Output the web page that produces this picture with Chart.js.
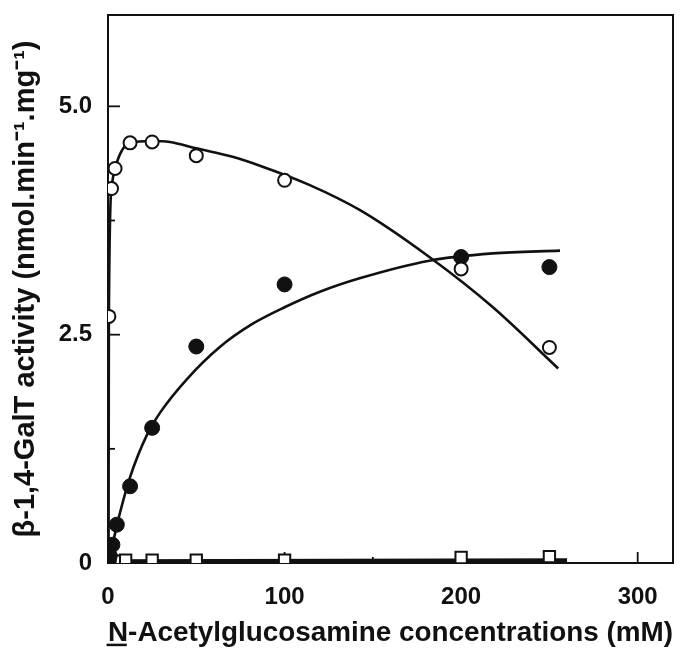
<!DOCTYPE html>
<html><head><meta charset="utf-8">
<script src="https://cdn.jsdelivr.net/npm/chart.js@4.4.1/dist/chart.umd.min.js"></script>
<style>html,body{margin:0;padding:0;background:#fff}#wrap{width:685px;height:654px}</style>
</head><body><div id="wrap"><canvas id="c" width="685" height="654"></canvas></div>
<script>
// Tick values
const xTickLabels = [0, 100, 200, 300];
const xTickMarks = [0, 50, 100, 150, 200, 250, 300];
const yTickLabels = [0, 2.5, 5];
const yTickMarks = [0, 1.25, 2.5, 3.75, 5];

// Open circles
const openX = [0.5, 2, 4, 12.5, 25, 50, 100, 200, 250];
const openY = [2.70, 4.10, 4.32, 4.60, 4.61, 4.46, 4.19, 3.22, 2.36];
// Filled circles
const filledX = [0.5, 1, 2.5, 5, 12.5, 25, 50, 100, 200, 250];
const filledY = [0.03, 0.08, 0.20, 0.42, 0.84, 1.48, 2.37, 3.05, 3.35, 3.24];
// Open squares
const squareX = [0.5, 1, 2.5, 5, 10, 25, 50, 100, 200, 250];
const squareY = [0.02, 0.02, 0.02, 0.02, 0.03, 0.03, 0.03, 0.03, 0.06, 0.07];

// Fitted curves
const openFitX = [0.3, 0.5, 2, 4, 12.5, 25, 35, 50, 70, 86, 114, 143, 182, 218, 255];
const openFitY = [0, 2.7, 4.1, 4.32, 4.6, 4.62, 4.61, 4.54, 4.45, 4.35, 4.14, 3.86, 3.35, 2.80, 2.13];
const filledFitX = [0, 2.5, 6.8, 12.5, 22, 30, 45, 63, 82, 100, 120, 143, 182, 218, 256];
const filledFitY = [0, 0.2, 0.55, 0.94, 1.40, 1.66, 2.02, 2.36, 2.62, 2.80, 2.97, 3.12, 3.31, 3.39, 3.42];
const squareFitX = [0, 260];
const squareFitY = [0.02, 0.03];

const xTitle = 'N-Acetylglucosamine concentrations (mM)';
const yTitle = 'β-1,4-GalT activity (nmol.min⁻¹.mg⁻¹)';

const FONT = "'Liberation Sans', Arial, Helvetica, sans-serif";
const INK = '#111';
const pts = (xs, ys) => xs.map((x, i) => ({x: x, y: ys[i]}));

const framePlugin = {
  id: 'frame',
  beforeDatasetsDraw(chart) {
    const {ctx, chartArea: a, scales: {x, y}} = chart;
    ctx.save();
    ctx.strokeStyle = INK;
    ctx.lineWidth = 2;
    ctx.strokeRect(a.left, a.top, a.right - a.left, a.bottom - a.top);
    ctx.lineWidth = 1.8;
    xTickMarks.forEach(v => {
      const px = x.getPixelForValue(v);
      const len = xTickLabels.includes(v) ? 11 : 6;
      ctx.beginPath(); ctx.moveTo(px, a.bottom); ctx.lineTo(px, a.bottom - len); ctx.stroke();
    });
    yTickMarks.forEach(v => {
      const py = y.getPixelForValue(v);
      const len = yTickLabels.includes(v) ? 12 : 7;
      ctx.beginPath(); ctx.moveTo(a.left, py); ctx.lineTo(a.left + len, py); ctx.stroke();
    });
    ctx.restore();
  },
  afterDraw(chart) {
    // underline the N of the x title
    const {ctx, scales: {x}} = chart;
    const t = x.options.title;
    const size = t.font.size, lh = size * 1.2;
    const titleY = x.bottom - (lh / 2 + t.padding.bottom);
    ctx.save();
    ctx.font = 'bold ' + size + 'px ' + FONT;
    ctx.textBaseline = 'middle';
    const w = ctx.measureText(xTitle).width;
    const m = ctx.measureText('N');
    const cx = (x.left + x.right) / 2;
    const sx = cx - w / 2;
    const base = titleY + m.actualBoundingBoxDescent;
    ctx.strokeStyle = INK; ctx.lineWidth = 2.5;
    ctx.beginPath(); ctx.moveTo(sx, base + 4); ctx.lineTo(sx + m.width, base + 4); ctx.stroke();
    ctx.restore();
  }
};

new Chart(document.getElementById('c'), {
  type: 'scatter',
  data: {
    datasets: [
      {data: pts(openX, openY), pointStyle: 'circle', pointRadius: 6.5, pointBorderWidth: 2,
       pointBackgroundColor: '#fff', pointBorderColor: INK, showLine: false, order: 0},
      {data: pts(filledX, filledY), pointStyle: 'circle', pointRadius: 7.5, pointBorderWidth: 1,
       pointBackgroundColor: INK, pointBorderColor: INK, showLine: false, order: 0},
      {data: pts(squareX, squareY), pointStyle: 'rect', pointRadius: 8, pointBorderWidth: 2,
       pointBackgroundColor: '#fff', pointBorderColor: INK, showLine: false, order: 0},
      {data: pts(openFitX, openFitY), showLine: true, pointRadius: 0, borderColor: INK, borderWidth: 2.6,
       cubicInterpolationMode: 'monotone', order: 1},
      {data: pts(filledFitX, filledFitY), showLine: true, pointRadius: 0, borderColor: INK, borderWidth: 2.6,
       cubicInterpolationMode: 'monotone', order: 1},
      {data: pts(squareFitX, squareFitY), showLine: true, pointRadius: 0, borderColor: INK, borderWidth: 4,
       order: 1}
    ]
  },
  options: {
    responsive: false,
    animation: false,
    layout: {padding: {top: 15, right: 12, left: 0, bottom: 0}},
    plugins: {legend: {display: false}, tooltip: {enabled: false}},
    scales: {
      x: {
        type: 'linear', min: 0, max: 320,
        afterBuildTicks: s => { s.ticks = xTickLabels.map(v => ({value: v})); },
        afterFit: s => { s.height = 91; s.paddingLeft = 0; s.paddingRight = 0; },
        grid: {display: false, drawTicks: false},
        border: {display: false},
        ticks: {padding: 20, color: INK, font: {family: FONT, size: 24, weight: 'bold'},
                callback: v => String(v)},
        title: {display: true, text: xTitle, color: INK,
                font: {family: FONT, size: 28, weight: 'bold'}, padding: {top: 0, bottom: 4}}
      },
      y: {
        type: 'linear', min: 0, max: 6,
        afterBuildTicks: s => { s.ticks = yTickLabels.map(v => ({value: v})); },
        afterFit: s => { s.width = 108; s.paddingTop = 0; s.paddingBottom = 0; },
        grid: {display: false, drawTicks: false},
        border: {display: false},
        ticks: {padding: 16, color: INK, font: {family: FONT, size: 24, weight: 'bold'},
                callback: v => v === 0 ? '0' : v.toFixed(1)},
        title: {display: true, text: yTitle, color: INK,
                font: {family: FONT, size: 29, weight: 'bold'}, padding: {top: 9, bottom: 0}}
      }
    }
  },
  plugins: [framePlugin]
});
</script>
</body></html>
